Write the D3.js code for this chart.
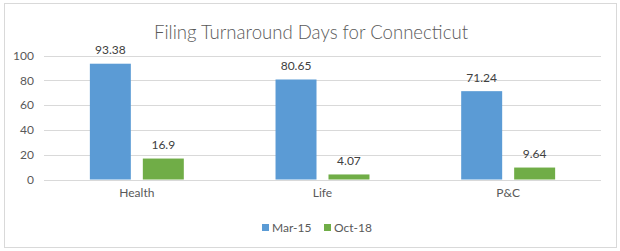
<!DOCTYPE html>
<html>
<head>
<meta charset="utf-8">
<script src="https://cdn.jsdelivr.net/npm/d3@7"></script>
<style>
  html, body { margin: 0; padding: 0; background: #fff; }
  svg { display: block; }
  text { font-family: Lato, "Open Sans", sans-serif; }
</style>
</head>
<body>
<svg id="chart" width="620" height="251"></svg>
<script>
const categories = ["Health", "Life", "P&C"];
const seriesNames = ["Mar-15", "Oct-18"];
const mar15 = [93.38, 80.65, 71.24];
const oct18 = [16.9, 4.07, 9.64];
const yTicks = [0, 20, 40, 60, 80, 100];
const colors = ["#5b9bd5", "#70ad47"];

const seriesValues = [mar15, oct18];
const rows = categories.map((c, i) => ({
  category: c,
  values: seriesNames.map((s, j) => ({ series: s, value: seriesValues[j][i], color: colors[j] }))
}));

const svg = d3.select("#chart");

// chart area border
svg.append("rect")
  .attr("x", 4.5).attr("y", 3.5)
  .attr("width", 612).attr("height", 244)
  .attr("fill", "#fff").attr("stroke", "#d9d9d9").attr("stroke-width", 1);

// title
svg.append("text")
  .attr("x", 311).attr("y", 39)
  .attr("text-anchor", "middle")
  .attr("font-size", 18.6).attr("font-weight", 300)
  .attr("fill", "#595959")
  .text("Filing Turnaround Days for Connecticut");

const plot = { left: 44, right: 601, top: 55.5, bottom: 179.5 };

const y = d3.scaleLinear().domain([0, 100]).range([plot.bottom, plot.top]);
const x0 = d3.scaleBand().domain(categories).range([plot.left, plot.right])
  .paddingInner(0.494).paddingOuter(0.247);
const x1 = d3.scaleBand().domain(seriesNames).range([0, x0.bandwidth()])
  .paddingInner(12 / 53);

// gridlines
svg.append("g")
  .selectAll("line").data(yTicks).join("line")
  .attr("x1", plot.left).attr("x2", plot.right)
  .attr("y1", d => Math.round(y(d)) + 0.5).attr("y2", d => Math.round(y(d)) + 0.5)
  .attr("stroke", "#d9d9d9").attr("stroke-width", 1);

// y axis labels
const yAxis = d3.axisLeft(y).tickValues(yTicks).tickSize(0).tickPadding(0);
const gy = svg.append("g").attr("transform", `translate(${plot.left - 10},0)`).call(yAxis);
gy.select(".domain").remove();
gy.selectAll("text").attr("font-size", 12).attr("fill", "#595959")
  .attr("font-family", "Lato, 'Open Sans', sans-serif");

// bars
const groups = svg.append("g").selectAll("g").data(rows).join("g")
  .attr("transform", d => `translate(${x0(d.category)},0)`);

groups.selectAll("rect").data(d => d.values).join("rect")
  .attr("x", d => x1(d.series))
  .attr("y", d => y(d.value))
  .attr("width", x1.bandwidth())
  .attr("height", d => y(0) - y(d.value))
  .attr("fill", d => d.color);

groups.selectAll("text.val").data(d => d.values).join("text")
  .attr("class", "val")
  .attr("x", d => x1(d.series) + x1.bandwidth() / 2)
  .attr("y", d => y(d.value) - 9.5)
  .attr("text-anchor", "middle")
  .attr("font-size", 12).attr("fill", "#404040")
  .text(d => d.value);

// x axis labels
const xAxis = d3.axisBottom(x0).tickSize(0).tickPadding(0);
const gx = svg.append("g").attr("transform", `translate(0,${plot.bottom + 9})`).call(xAxis);
gx.select(".domain").remove();
gx.selectAll("text").attr("font-size", 12).attr("fill", "#595959")
  .attr("font-family", "Lato, 'Open Sans', sans-serif");

// legend
const legendX = [262, 324];
const legend = svg.append("g").selectAll("g").data(seriesNames).join("g")
  .attr("transform", (d, i) => `translate(${legendX[i]},224)`);
legend.append("rect").attr("width", 7).attr("height", 7)
  .attr("fill", (d, i) => colors[i]);
legend.append("text").attr("x", 10).attr("y", 7.5)
  .attr("font-size", 12).attr("fill", "#595959").text(d => d);
</script>
</body>
</html>
